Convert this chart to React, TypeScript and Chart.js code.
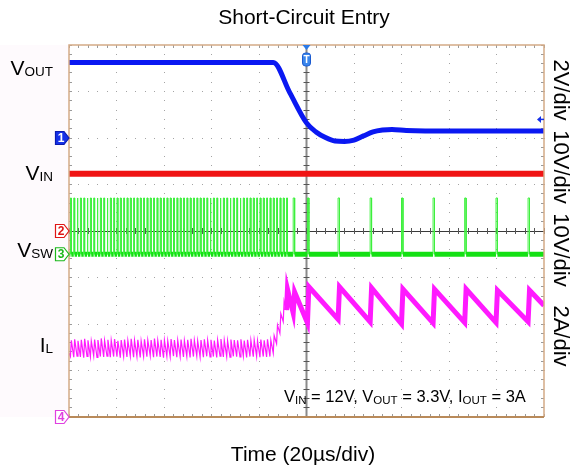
import React, { useEffect, useRef } from "react";
import { Chart, registerables } from "chart.js";

Chart.register(...registerables);

// ---- time base (µs), 20 µs/div, trigger at centre ----
const timeMinUs = -100;
const timeMaxUs = 100;

// ---- channel scales: units per division and ground offset in divisions ----
const chUnitsPerDiv = [2, 10, 10, 2];
const chOffsetDiv = [2, 0, -0.5, -4];

// ---- CH1: VOUT ----
const voutTimeUs = [-100, -60, -14, -7, 0, 4, 8, 12, 16, 20, 24, 28, 32, 36, 42, 50, 75, 100];
const voutVolts = [3.25, 3.25, 3.25, 1.94, 0.65, 0.26, 0.02, -0.13, -0.15, -0.09, 0.09, 0.26, 0.34, 0.37, 0.32, 0.3, 0.3, 0.3];

// ---- CH2: VIN ----
const vinTimeUs = [-100, 0, 100];
const vinVolts = [12.3, 12.3, 12.3];

// ---- CH3: VSW ----
const swPreStartsUs = [
  -99.4, -98.0, -96.6, -95.2, -93.8, -92.4, -91.0, -89.6, -88.2, -86.8,
  -85.4, -84.0, -82.6, -81.2, -79.8, -78.4, -77.0, -75.6, -74.2, -72.8,
  -71.4, -70.0, -68.6, -67.2, -65.8, -64.4, -63.0, -61.6, -60.2, -58.8,
  -57.4, -56.0, -54.6, -53.2, -51.8, -50.4, -49.0, -47.6, -46.2, -44.8,
  -43.4, -42.0, -40.6, -39.2, -37.8, -36.4, -35.0, -33.6, -32.2, -30.8,
  -29.4, -28.0, -26.6, -25.2, -23.8, -22.4, -21.0, -19.6, -18.2, -16.8,
  -15.4, -14.0, -12.6, -11.2, -9.8, -8.4,
];
const swPreOnUs = 0.38;
const swPostStartsUs = [-5.6, 0.4, 13.3, 26.8, 40.0, 53.3, 66.6, 79.8, 93.3];
const swPostOnUs = 0.6;
const swHighVolts = 12.1;
const swLowVolts = 0;

// ---- CH4: IL ----
const ilStartAmps = 2.75;
const ilPrePeaksA = [
  3.30, 3.34, 3.28, 3.32, 3.36, 3.30, 3.27, 3.33, 3.31, 3.38,
  3.29, 3.32, 3.30, 3.35, 3.28, 3.31, 3.33, 3.29, 3.36, 3.30,
  3.32, 3.27, 3.34, 3.30, 3.31, 3.37, 3.29, 3.32, 3.30, 3.28,
  3.35, 3.31, 3.30, 3.33, 3.29, 3.32, 3.36, 3.30, 3.28, 3.31,
  3.34, 3.30, 3.32, 3.29, 3.31, 3.35, 3.30, 3.28, 3.33, 3.31,
  3.30, 3.34, 3.29, 3.32, 3.30, 3.31, 3.28, 3.33, 3.30, 3.34,
  3.31, 3.50, 3.95, 4.45, 5.00, 5.50,
];
const ilPreValleysA = [
  2.60, 2.57, 2.62, 2.58, 2.55, 2.61, 2.59, 2.63, 2.56, 2.60,
  2.58, 2.62, 2.57, 2.60, 2.59, 2.55, 2.61, 2.58, 2.62, 2.57,
  2.60, 2.56, 2.61, 2.59, 2.63, 2.57, 2.60, 2.58, 2.55, 2.61,
  2.59, 2.62, 2.57, 2.60, 2.58, 2.61, 2.56, 2.60, 2.62, 2.58,
  2.57, 2.61, 2.59, 2.60, 2.56, 2.62, 2.58, 2.60, 2.57, 2.61,
  2.59, 2.58, 2.62, 2.56, 2.60, 2.59, 2.61, 2.57, 2.60, 2.58,
  2.60, 2.75, 3.15, 3.60, 4.10, 4.60,
];
const ilPostPeaksA = [5.37, 5.6, 5.6, 5.55, 5.5, 5.5, 5.5, 5.45, 5.45];
const ilPostValleysA = [4.47, 4.04, 4.2, 4.09, 4.0, 4.04, 4.06, 4.06, 4.1];
const ilEndAmps = 4.8;

// ---- text ----
const titleText = "Short-Circuit Entry";
const xAxisText = "Time (20µs/div)";
const rightScaleLabels = ["2V/div", "10V/div", "10V/div", "2A/div"];

// ---------------------------------------------------------------
const FONT = '"Liberation Sans", Arial, sans-serif';

const pairs = (t: number[], v: number[]) => t.map((x, i) => ({ x, y: v[i] }));

function buildSw() {
  const out: { x: number; y: number }[] = [{ x: timeMinUs, y: swLowVolts }];
  const add = (starts: number[], on: number) =>
    starts.forEach((s) => {
      out.push({ x: s, y: swLowVolts }, { x: s, y: swHighVolts }, { x: s + on, y: swHighVolts }, { x: s + on, y: swLowVolts });
    });
  add(swPreStartsUs, swPreOnUs);
  add(swPostStartsUs, swPostOnUs);
  out.push({ x: timeMaxUs, y: swLowVolts });
  return out;
}

function buildIl() {
  const out: { x: number; y: number }[] = [{ x: timeMinUs, y: ilStartAmps }];
  swPreStartsUs.forEach((s, i) => {
    out.push({ x: s, y: ilPreValleysA[i] }, { x: s + swPreOnUs, y: ilPrePeaksA[i] });
  });
  swPostStartsUs.forEach((s, i) => {
    out.push({ x: s, y: ilPostValleysA[i] }, { x: s + swPostOnUs, y: ilPostPeaksA[i] });
  });
  out.push({ x: timeMaxUs, y: ilEndAmps });
  return out;
}

const chAxis = (i: number) => ({
  type: "linear" as const,
  display: false,
  min: (-4 - chOffsetDiv[i]) * chUnitsPerDiv[i],
  max: (4 - chOffsetDiv[i]) * chUnitsPerDiv[i],
});

function drawSubText(
  ctx: CanvasRenderingContext2D,
  x: number,
  baseline: number,
  parts: [string, boolean][],
  mainPx: number,
  subPx: number,
  subDrop: number,
  align: "left" | "right"
) {
  ctx.textAlign = "left";
  ctx.textBaseline = "alphabetic";
  const widths = parts.map(([t, sub]) => {
    ctx.font = `${sub ? subPx : mainPx}px ${FONT}`;
    return ctx.measureText(t).width;
  });
  const total = widths.reduce((a, b) => a + b, 0);
  let cx = align === "right" ? x - total : x;
  parts.forEach(([t, sub], i) => {
    ctx.font = `${sub ? subPx : mainPx}px ${FONT}`;
    ctx.fillText(t, cx, baseline + (sub ? subDrop : 0));
    cx += widths[i];
  });
}

function drawFlag(ctx: CanvasRenderingContext2D, x: number, y: number, fill: string, stroke: string, textColor: string, label: string) {
  ctx.beginPath();
  ctx.moveTo(x, y - 6.5);
  ctx.lineTo(x + 8.5, y - 6.5);
  ctx.lineTo(x + 13.5, y);
  ctx.lineTo(x + 8.5, y + 6.5);
  ctx.lineTo(x, y + 6.5);
  ctx.closePath();
  ctx.fillStyle = fill;
  ctx.fill();
  ctx.strokeStyle = stroke;
  ctx.lineWidth = 1.2;
  ctx.stroke();
  ctx.fillStyle = textColor;
  ctx.font = `bold 12px ${FONT}`;
  ctx.textAlign = "center";
  ctx.textBaseline = "middle";
  ctx.fillText(label, x + 5.5, y + 0.5);
}

const graticulePlugin = {
  id: "graticule",
  beforeDatasetsDraw(chart: any) {
    const { ctx, chartArea: a, scales } = chart;
    const xs = scales.x;
    const ys = scales.y;
    ctx.save();
    ctx.fillStyle = "#fefafd";
    ctx.fillRect(0, a.top, a.left, a.bottom - a.top);

    const xMajor: number[] = [];
    for (let d = -5; d <= 5; d++) xMajor.push(xs.getPixelForValue(d * 20));
    const xMinor: number[] = [];
    for (let m = -25; m <= 25; m++) xMinor.push(xs.getPixelForValue(m * 4));
    const yMajor: number[] = [];
    for (let d = -4; d <= 4; d++) yMajor.push(ys.getPixelForValue(d));
    const yMinor: number[] = [];
    for (let m = -20; m <= 20; m++) yMinor.push(ys.getPixelForValue(m / 5));

    // dotted major lines
    ctx.fillStyle = "#a4a4a4";
    xMajor.forEach((x, i) => {
      if (i === 0 || i === 5 || i === 10) return;
      yMinor.forEach((y) => ctx.fillRect(Math.floor(x), Math.floor(y), 1, 1));
    });
    yMajor.forEach((y, i) => {
      if (i === 0 || i === 4 || i === 8) return;
      xMinor.forEach((x) => ctx.fillRect(Math.floor(x), Math.floor(y), 1, 1));
    });

    // border ticks
    ctx.strokeStyle = "#9a9a9a";
    ctx.lineWidth = 1;
    ctx.beginPath();
    xMinor.forEach((x) => {
      const px = Math.floor(x) + 0.5;
      ctx.moveTo(px, a.top);
      ctx.lineTo(px, a.top + 3);
      ctx.moveTo(px, a.bottom);
      ctx.lineTo(px, a.bottom - 3);
    });
    yMinor.forEach((y) => {
      const py = Math.floor(y) + 0.5;
      ctx.moveTo(a.left, py);
      ctx.lineTo(a.left + 3, py);
      ctx.moveTo(a.right, py);
      ctx.lineTo(a.right - 3, py);
    });
    ctx.stroke();

    // centre lines
    const cx = xMajor[5];
    const cy = yMajor[4];
    ctx.strokeStyle = "#8a8a8a";
    ctx.lineWidth = 2;
    ctx.beginPath();
    ctx.moveTo(cx, a.top);
    ctx.lineTo(cx, a.bottom);
    ctx.stroke();
    ctx.strokeStyle = "#3a3a3a";
    ctx.lineWidth = 1;
    ctx.beginPath();
    ctx.moveTo(a.left, Math.floor(cy) + 0.5);
    ctx.lineTo(a.right, Math.floor(cy) + 0.5);
    ctx.stroke();
    ctx.strokeStyle = "#555";
    ctx.beginPath();
    yMinor.forEach((y) => {
      const py = Math.floor(y) + 0.5;
      ctx.moveTo(cx - 3, py);
      ctx.lineTo(cx + 3, py);
    });
    xMinor.forEach((x) => {
      const px = Math.floor(x) + 0.5;
      ctx.moveTo(px, cy - 3);
      ctx.lineTo(px, cy + 3);
    });
    ctx.stroke();
    ctx.restore();
  },
  afterDatasetsDraw(chart: any) {
    const { ctx, chartArea: a } = chart;
    ctx.save();
    ctx.strokeStyle = "#d4aa86";
    ctx.lineWidth = 1.5;
    ctx.beginPath();
    ctx.moveTo(a.left, a.bottom);
    ctx.lineTo(a.left, a.top);
    ctx.lineTo(a.right, a.top);
    ctx.lineTo(a.right, a.bottom);
    ctx.stroke();
    ctx.strokeStyle = "#b98a5a";
    ctx.lineWidth = 2;
    ctx.beginPath();
    ctx.moveTo(a.left, a.bottom);
    ctx.lineTo(a.right, a.bottom);
    ctx.stroke();
    ctx.restore();
  },
};

const overlayPlugin = {
  id: "overlay",
  afterDraw(chart: any) {
    const { ctx, chartArea: a, scales } = chart;
    ctx.save();
    ctx.fillStyle = "#000";
    ctx.font = `21px ${FONT}`;
    ctx.textAlign = "center";
    ctx.textBaseline = "alphabetic";
    ctx.fillText(titleText, 304, 24);
    ctx.fillText(xAxisText, 303, 461);

    // left channel labels
    ctx.fillStyle = "#000";
    drawSubText(ctx, 53, 75, [["V", false], ["OUT", true]], 21, 13.5, 1, "right");
    drawSubText(ctx, 53, 180, [["V", false], ["IN", true]], 21, 13.5, 1, "right");
    drawSubText(ctx, 53, 257, [["V", false], ["SW", true]], 21, 13.5, 1, "right");
    drawSubText(ctx, 53, 352, [["I", false], ["L", true]], 21, 13.5, 1, "right");

    // conditions annotation
    drawSubText(
      ctx,
      284,
      402,
      [["V", false], ["IN", true], [" = 12V, V", false], ["OUT", true], [" = 3.3V, I", false], ["OUT", true], [" = 3A", false]],
      16.5,
      11.5,
      1.5,
      "left"
    );

    // right rotated scale labels
    const centers = [90, 167, 250, 336];
    ctx.font = `22px ${FONT}`;
    ctx.textAlign = "center";
    ctx.textBaseline = "alphabetic";
    rightScaleLabels.forEach((t, i) => {
      ctx.save();
      ctx.translate(554, centers[i]);
      ctx.rotate(Math.PI / 2);
      ctx.fillText(t, 0, 0);
      ctx.restore();
    });

    // channel ground markers
    const fx = a.left - 13.5;
    drawFlag(ctx, fx, scales.ch1.getPixelForValue(0), "#1530e8", "#0a1ab0", "#fff", "1");
    drawFlag(ctx, fx, scales.ch2.getPixelForValue(0), "#fff", "#e01515", "#e01515", "2");
    drawFlag(ctx, fx, scales.ch3.getPixelForValue(0), "#fff", "#1bb81b", "#1bb81b", "3");
    drawFlag(ctx, fx, scales.ch4.getPixelForValue(0), "#fff", "#e040e0", "#e040e0", "4");

    // trigger position marker
    const tx = scales.x.getPixelForValue(0);
    ctx.fillStyle = "#2a7ae8";
    ctx.beginPath();
    ctx.moveTo(tx - 4, a.top);
    ctx.lineTo(tx + 4, a.top);
    ctx.lineTo(tx, a.top + 5);
    ctx.closePath();
    ctx.fill();
    ctx.beginPath();
    const rx = tx - 4, ry = a.top + 8, rw = 8, rh = 13, r = 3;
    ctx.moveTo(rx + r, ry);
    ctx.lineTo(rx + rw - r, ry);
    ctx.quadraticCurveTo(rx + rw, ry, rx + rw, ry + r);
    ctx.lineTo(rx + rw, ry + rh - r);
    ctx.quadraticCurveTo(rx + rw, ry + rh, rx + rw - r, ry + rh);
    ctx.lineTo(rx + r, ry + rh);
    ctx.quadraticCurveTo(rx, ry + rh, rx, ry + rh - r);
    ctx.lineTo(rx, ry + r);
    ctx.quadraticCurveTo(rx, ry, rx + r, ry);
    ctx.closePath();
    ctx.fillStyle = "#3a86ec";
    ctx.fill();
    ctx.strokeStyle = "#1a5ad0";
    ctx.lineWidth = 1;
    ctx.stroke();
    ctx.fillStyle = "#fff";
    ctx.font = `bold 10px ${FONT}`;
    ctx.textAlign = "center";
    ctx.textBaseline = "middle";
    ctx.fillText("T", tx, ry + rh / 2 + 0.5);

    // trigger level arrow (CH1)
    const ty = scales.ch1.getPixelForValue(0.8);
    ctx.fillStyle = "#1530e8";
    ctx.strokeStyle = "#1530e8";
    ctx.beginPath();
    ctx.moveTo(a.right - 7, ty);
    ctx.lineTo(a.right - 3, ty - 3.5);
    ctx.lineTo(a.right - 3, ty + 3.5);
    ctx.closePath();
    ctx.fill();
    ctx.lineWidth = 1.5;
    ctx.beginPath();
    ctx.moveTo(a.right - 4, ty);
    ctx.lineTo(a.right, ty);
    ctx.stroke();
    ctx.restore();
  },
};

export default function App() {
  const ref = useRef<HTMLCanvasElement>(null);
  useEffect(() => {
    document.body.style.margin = "0";
    const swData = buildSw();
    const ilData = buildIl();
    const chart = new Chart(ref.current as HTMLCanvasElement, {
      type: "line",
      data: {
        datasets: [
          {
            label: "IL",
            data: ilData,
            yAxisID: "ch4",
            borderColor: "#ff1aff",
            borderWidth: 1.2,
            pointRadius: 0,
            tension: 0,
            clip: 0,
            segment: {
              borderWidth: (c: any) => (c.p0.parsed.x >= -9 ? 5 : undefined),
            },
          } as any,
          {
            label: "VSW",
            data: swData,
            yAxisID: "ch3",
            borderColor: "#3df03d",
            borderWidth: 1,
            pointRadius: 0,
            tension: 0,
            clip: 0,
            segment: {
              borderWidth: (c: any) => (c.p0.parsed.y === swLowVolts && c.p1.parsed.y === swLowVolts ? 5 : undefined),
              borderColor: (c: any) => (c.p0.parsed.y === swLowVolts && c.p1.parsed.y === swLowVolts ? "#14e014" : undefined),
            },
          } as any,
          {
            label: "VIN",
            data: pairs(vinTimeUs, vinVolts),
            yAxisID: "ch2",
            borderColor: "#f01414",
            borderWidth: 6,
            pointRadius: 0,
            tension: 0,
            clip: 0,
          } as any,
          {
            label: "VOUT",
            data: pairs(voutTimeUs, voutVolts),
            yAxisID: "ch1",
            borderColor: "#0a18f2",
            borderWidth: 5,
            pointRadius: 0,
            tension: 0.3,
            cubicInterpolationMode: "monotone",
            clip: 0,
          } as any,
        ],
      },
      options: {
        responsive: false,
        animation: false,
        devicePixelRatio: 1,
        parsing: false,
        normalized: true,
        layout: { padding: { left: 69, top: 45, right: 27, bottom: 50 } },
        plugins: { legend: { display: false }, tooltip: { enabled: false }, title: { display: false } },
        events: [],
        scales: {
          x: { type: "linear", display: false, min: timeMinUs, max: timeMaxUs },
          y: { type: "linear", display: false, min: -4, max: 4 },
          ch1: chAxis(0),
          ch2: chAxis(1),
          ch3: chAxis(2),
          ch4: chAxis(3),
        },
      } as any,
      plugins: [graticulePlugin, overlayPlugin],
    });
    return () => chart.destroy();
  }, []);
  return (
    <div style={{ position: "absolute", left: 0, top: 0, width: 571, height: 467, background: "#fff" }}>
      <canvas ref={ref} width={571} height={467} style={{ display: "block", width: 571, height: 467 }} />
    </div>
  );
}
